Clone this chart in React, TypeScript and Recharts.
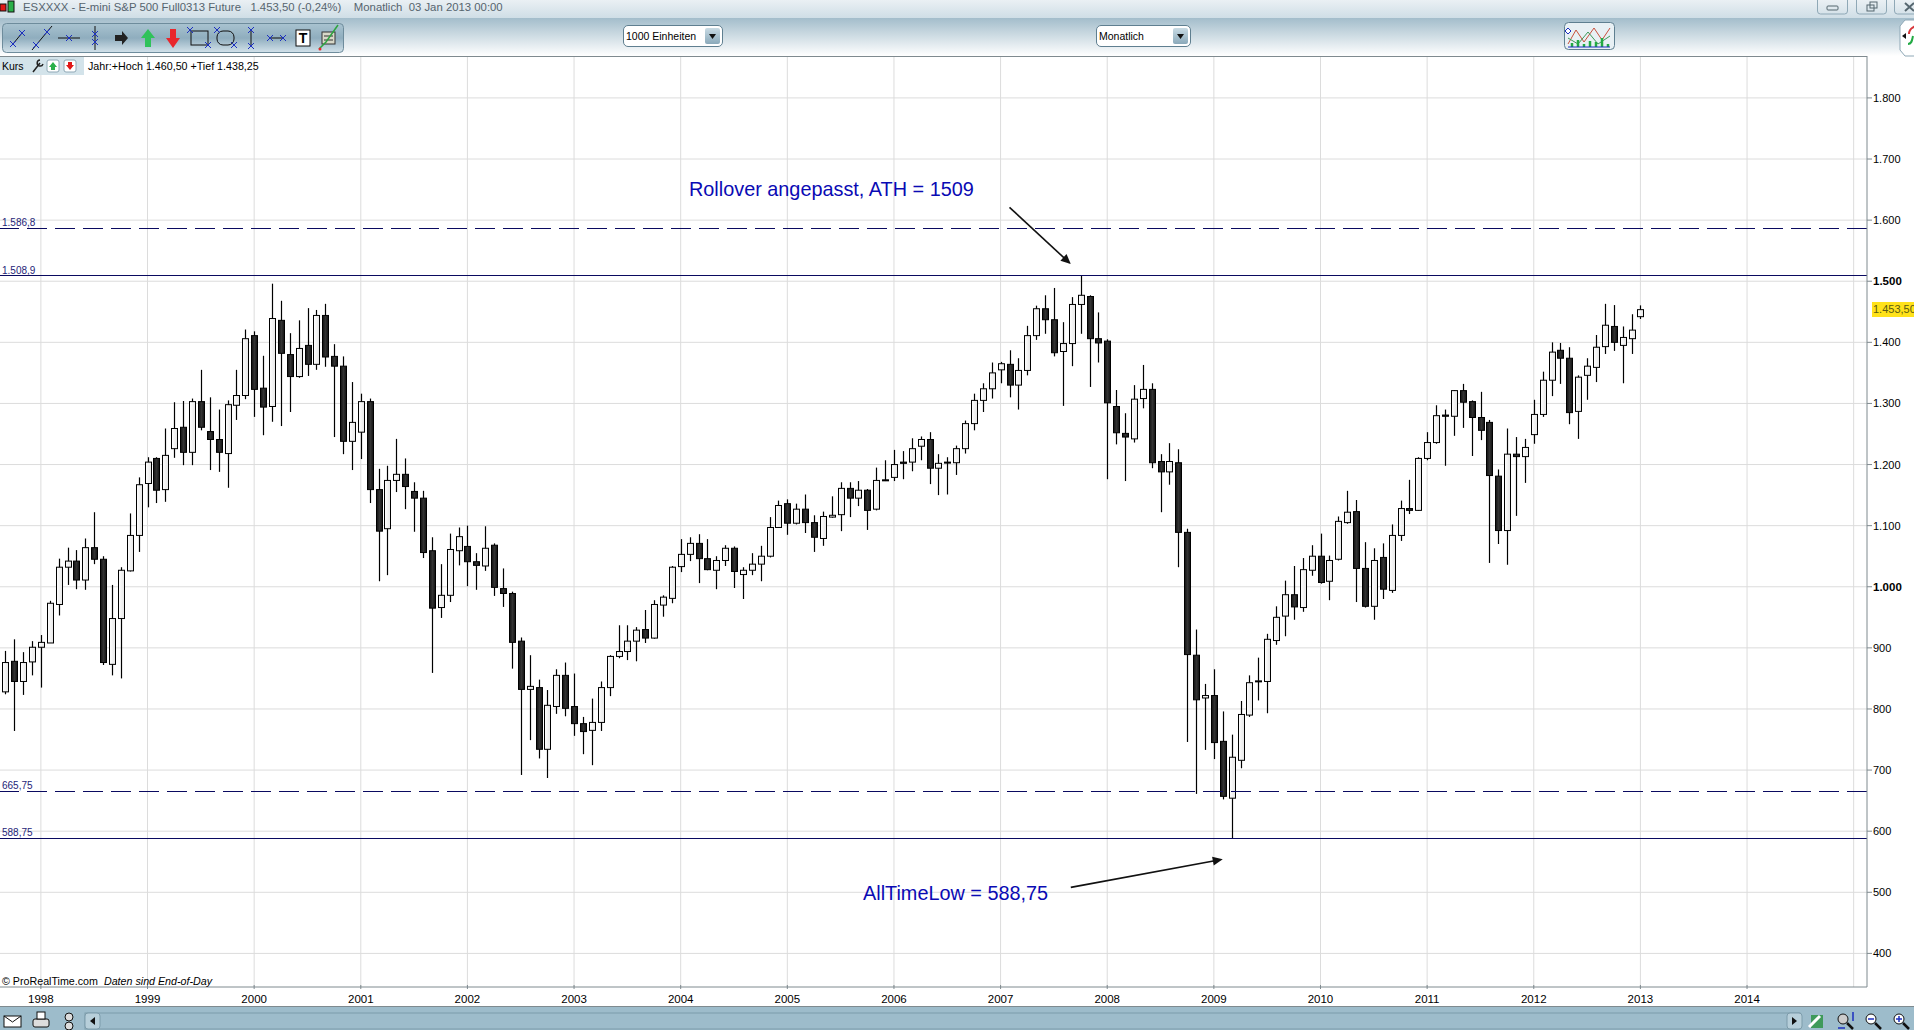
import React from "react";
import {
  ComposedChart,
  Bar,
  XAxis,
  YAxis,
  CartesianGrid,
  ReferenceLine,
} from "recharts";

// monthly candles, Sep 1997 .. Jan 2013
const opens = [
  828, 878, 845, 877, 901, 908, 971, 1032, 1042, 1011,
  1064, 1045, 873, 948, 1026, 1084, 1169, 1210, 1159, 1226,
  1261, 1220, 1303, 1254, 1241, 1218, 1297, 1313, 1411, 1325,
  1295, 1436, 1380, 1344, 1395, 1364, 1444, 1377, 1361, 1238,
  1253, 1303, 1159, 1095, 1174, 1184, 1156, 1145, 1059, 966,
  986, 1059, 1066, 1041, 1034, 1068, 997, 989, 911, 832,
  835, 734, 804, 855, 804, 776, 765, 778, 835, 886,
  894, 911, 930, 916, 970, 981, 1033, 1053, 1071, 1046,
  1027, 1043, 1063, 1020, 1027, 1037, 1050, 1097, 1136, 1104,
  1127, 1105, 1079, 1114, 1118, 1161, 1145, 1158, 1127, 1175,
  1179, 1204, 1204, 1230, 1241, 1194, 1204, 1203, 1226, 1267,
  1305, 1324, 1355, 1364, 1330, 1354, 1411, 1455, 1437, 1385,
  1398, 1462, 1475, 1406, 1402, 1295, 1251, 1242, 1308, 1323,
  1205, 1188, 1203, 1089, 888, 818, 822, 747, 654, 716,
  790, 845, 845, 912, 952, 987, 966, 1027, 1050, 1009,
  1045, 1105, 1123, 1030, 968, 1048, 994, 1084, 1128, 1125,
  1210, 1236, 1281, 1279, 1321, 1303, 1277, 1269, 1181, 1092,
  1217, 1213, 1249, 1282, 1338, 1387, 1374, 1287, 1346, 1359,
  1393, 1426, 1395, 1406, 1442,
];
const closes = [
  876, 845, 876, 901, 909, 973, 1032, 1042, 1011, 1064,
  1045, 876, 948, 1027, 1084, 1167, 1204, 1158, 1215, 1259,
  1220, 1303, 1261, 1241, 1220, 1298, 1313, 1406, 1323, 1294,
  1439, 1382, 1344, 1390, 1364, 1444, 1376, 1361, 1238, 1269,
  1303, 1159, 1091, 1174, 1184, 1164, 1145, 1056, 965, 986,
  1061, 1082, 1041, 1035, 1063, 999, 989, 909, 832, 837,
  734, 806, 855, 801, 776, 763, 778, 835, 886, 894,
  911, 929, 916, 971, 983, 1032, 1053, 1071, 1046, 1028,
  1043, 1063, 1025, 1027, 1037, 1050, 1097, 1133, 1104, 1127,
  1105, 1081, 1115, 1117, 1161, 1145, 1158, 1125, 1174, 1174,
  1200, 1202, 1226, 1241, 1194, 1202, 1203, 1226, 1267, 1305,
  1324, 1350, 1365, 1330, 1354, 1411, 1455, 1437, 1383, 1398,
  1462, 1477, 1406, 1399, 1301, 1252, 1245, 1307, 1323, 1203,
  1188, 1205, 1089, 889, 815, 822, 745, 657, 721, 791,
  843, 846, 914, 950, 987, 967, 1028, 1050, 1007, 1043,
  1107, 1122, 1030, 968, 1043, 996, 1084, 1128, 1125, 1210,
  1236, 1280, 1279, 1321, 1302, 1277, 1256, 1182, 1092, 1217,
  1213, 1228, 1282, 1338, 1384, 1374, 1285, 1343, 1361, 1392,
  1428, 1400, 1408, 1420, 1453.5,
];
const highs = [
  895, 914, 893, 911, 921, 977, 1046, 1064, 1060, 1079,
  1122, 1050, 1003, 1032, 1120, 1179, 1212, 1212, 1259, 1302,
  1304, 1308, 1355, 1310, 1290, 1305, 1355, 1421, 1418, 1378,
  1496, 1468, 1415, 1436, 1456, 1453, 1463, 1397, 1377, 1335,
  1316, 1308, 1193, 1198, 1242, 1210, 1171, 1157, 1081, 1037,
  1087, 1097, 1100, 1055, 1099, 1071, 1030, 992, 917, 888,
  848, 831, 865, 876, 858, 787, 817, 845, 888, 937,
  937, 934, 962, 978, 986, 1034, 1078, 1081, 1086, 1078,
  1050, 1068, 1066, 1032, 1055, 1067, 1114, 1141, 1143, 1136,
  1151, 1117, 1123, 1148, 1171, 1171, 1173, 1160, 1195, 1207,
  1224, 1222, 1243, 1246, 1253, 1217, 1212, 1231, 1272, 1316,
  1333, 1367, 1368, 1387, 1374, 1427, 1460, 1477, 1489, 1433,
  1474, 1508.9, 1477, 1449, 1405, 1322, 1284, 1330, 1363, 1333,
  1217, 1235, 1225, 1095, 930, 841, 865, 796, 758, 813,
  855, 884, 923, 968, 1010, 1034, 1047, 1068, 1087, 1051,
  1115, 1157, 1142, 1073, 1063, 1071, 1102, 1141, 1175, 1212,
  1253, 1297, 1290, 1322, 1332, 1305, 1319, 1273, 1192, 1259,
  1245, 1242, 1306, 1352, 1400, 1399, 1392, 1346, 1374, 1412,
  1463, 1461, 1426, 1446, 1460.5,
];
const lows = [
  824, 764, 823, 855, 835, 908, 953, 1003, 996, 995,
  1037, 872, 855, 850, 1025, 1057, 1130, 1137, 1139, 1211,
  1199, 1199, 1256, 1191, 1188, 1162, 1273, 1307, 1278, 1248,
  1270, 1263, 1286, 1342, 1345, 1355, 1360, 1245, 1217, 1191,
  1209, 1137, 1009, 1019, 1155, 1127, 1090, 1047, 859, 949,
  975, 1035, 1001, 995, 1026, 985, 967, 866, 692, 749,
  719, 687, 792, 788, 756, 726, 708, 764, 821, 883,
  880, 878, 908, 915, 951, 973, 1024, 1042, 1006, 1027,
  996, 1034, 998, 980, 1019, 1009, 1048, 1097, 1085, 1102,
  1088, 1057, 1067, 1113, 1091, 1114, 1132, 1093, 1125, 1173,
  1173, 1176, 1189, 1207, 1168, 1150, 1151, 1183, 1218, 1256,
  1286, 1308, 1333, 1310, 1290, 1346, 1404, 1414, 1377, 1296,
  1361, 1414, 1327, 1367, 1176, 1233, 1173, 1236, 1292, 1194,
  1122, 1167, 1032, 746, 661, 733, 718, 652, 588.75, 703,
  787, 814, 793, 905, 919, 946, 959, 1018, 1005, 978,
  1043, 1103, 975, 966, 946, 980, 990, 1075, 1119, 1124,
  1207, 1234, 1198, 1247, 1260, 1214, 1240, 1039, 1070, 1036,
  1116, 1170, 1234, 1278, 1312, 1332, 1266, 1242, 1306, 1335,
  1381, 1386, 1333, 1381, 1438.25,
];

const yearTicks = [4, 16, 28, 40, 52, 64, 76, 88, 100, 112, 124, 136, 148, 160, 172, 184, 196, 208];
const yearLabels = ["1998", "1999", "2000", "2001", "2002", "2003", "2004", "2005", "2006", "2007", "2008", "2009", "2010", "2011", "2012", "2013", "2014", ""];
const priceTicks = [400, 500, 600, 700, 800, 900, 1000, 1100, 1200, 1300, 1400, 1500, 1600, 1700, 1800];
const boldPrices = [1000, 1500];

const levels = [
  { value: 1586.8, label: "1.586,8", dash: "20 8" },
  { value: 1508.9, label: "1.508,9", dash: undefined },
  { value: 665.75, label: "665,75", dash: "20 8" },
  { value: 588.75, label: "588,75", dash: undefined },
];

const arrows = [
  [{ x: 113, y: 1621 }, { x: 119.9, y: 1528 }],
  [{ x: 119.9, y: 508 }, { x: 137, y: 554 }],
];

const candles = opens.map((open, i) => ({
  idx: i,
  open,
  close: closes[i],
  high: highs[i],
  low: lows[i],
  range: [lows[i], highs[i]],
}));

const FONT = "'Liberation Sans', Arial, sans-serif";
const NAVY = "#0a0a60";

function Candle(props: any) {
  const { x, y, width, height, payload } = props;
  const top = Math.min(y, y + height);
  const h = Math.abs(height);
  const perPoint = h / (payload.high - payload.low);
  const yOf = (v: number) => top + (payload.high - v) * perPoint;
  const cx = Math.round(x + width / 2) + 0.5;
  const up = payload.close >= payload.open;
  const bodyTop = yOf(Math.max(payload.open, payload.close));
  const bodyBottom = yOf(Math.min(payload.open, payload.close));
  return (
    <g>
      <line x1={cx} x2={cx} y1={top} y2={top + h} stroke="#000" strokeWidth={1.2} />
      <rect
        x={cx - 3}
        y={bodyTop}
        width={6}
        height={Math.max(bodyBottom - bodyTop, 1)}
        fill={up ? "url(#candleUp)" : "url(#candleDown)"}
        stroke="#000"
        strokeWidth={1}
      />
    </g>
  );
}

function Arrow(props: any) {
  const { x1, y1, x2, y2 } = props;
  const a = Math.atan2(y2 - y1, x2 - x1);
  const head = 10;
  const p = (d: number, s: number) =>
    `${x2 - Math.cos(a) * d - Math.sin(a) * s},${y2 - Math.sin(a) * d + Math.cos(a) * s}`;
  return (
    <g>
      <line x1={x1} y1={y1} x2={x2 - Math.cos(a) * 4} y2={y2 - Math.sin(a) * 4} stroke="#111" strokeWidth={1.6} />
      <polygon points={`${x2},${y2} ${p(head, 4.5)} ${p(head, -4.5)}`} fill="#111" />
    </g>
  );
}

function YearTick(props: any) {
  const { x, y, index } = props;
  const label = yearLabels[index];
  if (!label) return null;
  return (
    <g>
      <line x1={x} x2={x} y1={y - 8} y2={y - 4} stroke="#7f8a8f" />
      <text x={x} y={y + 10} textAnchor="middle" fontSize={11.5} fontFamily={FONT} fill="#000">
        {label}
      </text>
    </g>
  );
}

function PriceTick(props: any) {
  const { x, y, payload } = props;
  const bold = boldPrices.includes(payload.value);
  const label = payload.value >= 1000
    ? `${Math.floor(payload.value / 1000)}.${String(payload.value % 1000).padStart(3, "0")}`
    : String(payload.value);
  return (
    <text x={x} y={y + 4} fontSize={bold ? 11.5 : 11} fontWeight={bold ? 700 : 400} fontFamily={FONT} fill="#000">
      {label}
    </text>
  );
}

function Abs({ x, y, w, h, style, children }: any) {
  return <div style={{ position: "absolute", left: x, top: y, width: w, height: h, ...style }}>{children}</div>;
}

function Dropdown({ x, w, label }: any) {
  return (
    <Abs x={x} y={25} w={w} h={22} style={{ background: "#fff", border: "1px solid #5f7f90", borderRadius: 5, boxSizing: "border-box", fontSize: 10.5, lineHeight: "21px", paddingLeft: 2, color: "#000" }}>
      {label}
      <Abs x={w - 19} y={2} w={15} h={16} style={{ background: "linear-gradient(#c9dbe4,#8aa9ba)", borderRadius: 2 }}>
        <svg width={15} height={16}><polygon points="4,6 11,6 7.5,11" fill="#111" /></svg>
      </Abs>
    </Abs>
  );
}

function Toolbar() {
  const blue = "#1c2fc0";
  const mark = (x: number, y: number) => (
    <path d={`M${x - 3} ${y - 3}L${x + 3} ${y + 3}M${x + 3} ${y - 3}L${x - 3} ${y + 3}`} stroke={blue} strokeWidth={1} />
  );
  return (
    <svg width={346} height={34} style={{ position: "absolute", left: 0, top: 20 }}>
      <defs>
        <linearGradient id="panel" x1="0" y1="0" x2="0" y2="1">
          <stop offset="0" stopColor="#a9c3d0" />
          <stop offset="0.5" stopColor="#8fadbe" />
          <stop offset="1" stopColor="#d3e2ea" />
        </linearGradient>
      </defs>
      <rect x={2.5} y={3.5} width={341} height={29} rx={4} fill="url(#panel)" stroke="#6e8c9c" />
      <path d="M13 24L22 13" stroke="#111" />{mark(13, 24)}{mark(22, 13)}
      <path d="M32 30L52 6" stroke="#111" />{mark(36, 25)}{mark(47, 12)}
      <path d="M58 18H80" stroke="#111" />{mark(69, 18)}
      <path d="M95 6V30" stroke="#111" />{mark(95, 14)}{mark(95, 22)}
      <polygon points="115,15 122,15 122,11 128,18 122,25 122,21 115,21" fill="#222" />
      <polygon points="148,9 155,18 151,18 151,27 145,27 145,18 141,18" fill="#2fc25a" />
      <polygon points="173,28 180,18 176,18 176,9 170,9 170,18 166,18" fill="#e8262c" />
      <rect x={191} y={11} width={17} height={14} fill="none" stroke="#111" />{mark(190, 10)}{mark(208, 25)}
      <rect x={217} y={11} width={17} height={14} rx={6} fill="none" stroke="#111" />{mark(217, 10)}{mark(234, 25)}
      <path d="M251 9V27" stroke="#111" />{mark(251, 10)}{mark(251, 26)}
      <path d="M270 18H283" stroke="#111" />{mark(270, 18)}{mark(283, 18)}
      <rect x={296} y={10} width={14} height={16} fill="#fff" stroke="#111" />
      <text x={303} y={23} textAnchor="middle" fontSize={14} fontWeight={700} fontFamily={FONT}>T</text>
      <rect x={322} y={12} width={13} height={12} fill="#d8d8c8" stroke="#333" />
      <path d="M324 16H333M324 20H333" stroke="#333" />
      <path d="M319 29L326 22L338 5" fill="none" stroke="#2da43f" strokeWidth={1.5} />
      <circle cx={320} cy={29} r={1.5} fill="#e8262c" />
    </svg>
  );
}

function Footer() {
  return (
    <svg width={1914} height={23} style={{ position: "absolute", left: 0, top: 0 }}>
      <rect x={85} y={6} width={1715} height={16} fill="#9dbccb" stroke="#7d9cab" />
      <rect x={85} y={6} width={15} height={16} rx={3} fill="#b7cfda" stroke="#7d9cab" />
      <polygon points="90,14 95,10 95,18" fill="#111" />
      <rect x={1787} y={6} width={15} height={16} rx={3} fill="#b7cfda" stroke="#7d9cab" />
      <polygon points="1797,14 1792,10 1792,18" fill="#111" />
      <rect x={4} y={9} width={17} height={11} fill="#fff" stroke="#111" />
      <path d="M4 9L12.5 15L21 9" fill="none" stroke="#111" />
      <rect x={33} y={12} width={16} height={8} rx={2} fill="#ddd" stroke="#111" />
      <rect x={37} y={5} width={8} height={7} fill="#fff" stroke="#111" />
      <circle cx={69} cy={10} r={4} fill="#ddd" stroke="#111" />
      <circle cx={69} cy={19} r={4} fill="#ddd" stroke="#111" />
      <rect x={1811} y={8} width={12} height={13} fill="#3f9a5a" />
      <path d="M1809 20L1820 9" stroke="#fff" strokeWidth={3} />
      <circle cx={1843} cy={12} r={5} fill="#ccc" stroke="#111" />
      <path d="M1847 16L1853 22" stroke="#111" strokeWidth={2.5} />
      <path d="M1853 5V14M1838 21H1845" stroke="#1c2fc0" strokeWidth={1.5} />
      <circle cx={1871} cy={12} r={5} fill="#fff" stroke="#111" />
      <path d="M1868 12H1874" stroke="#1c2fc0" strokeWidth={1.5} />
      <path d="M1875 16L1881 22" stroke="#111" strokeWidth={2.5} />
      <circle cx={1899} cy={12} r={5} fill="#fff" stroke="#111" />
      <path d="M1896 12H1902M1899 9V15" stroke="#1c2fc0" strokeWidth={1.5} />
      <path d="M1903 16L1909 22" stroke="#111" strokeWidth={2.5} />
    </svg>
  );
}

export default function App() {
  return (
    <div style={{ position: "absolute", left: 0, top: 0, width: 1914, height: 1030, overflow: "hidden", background: "#fff", fontFamily: FONT }}>
      {/* window chrome */}
      <Abs x={0} y={0} w={1914} h={18} style={{ background: "linear-gradient(#eaf0f4,#cfdee6)" }} />
      <Abs x={0} y={18} w={1914} h={38} style={{ background: "linear-gradient(#a3bdcb,#ffffff)" }} />
      <Abs x={23} y={0} w={600} h={14} style={{ fontSize: 11.35, lineHeight: "14px", color: "#56646e", whiteSpace: "pre" }}>
        {"ESXXXX - E-mini S&P 500 Full0313 Future   1.453,50 (-0,24%)    Monatlich  03 Jan 2013 00:00"}
      </Abs>
      <svg width={18} height={14} style={{ position: "absolute", left: 0, top: 0 }}>
        <rect x={0} y={4} width={6} height={7} fill="#e01818" stroke="#111" />
        <rect x={8} y={1} width={6} height={11} fill="#2bb04a" stroke="#111" />
      </svg>
      <Toolbar />
      <Dropdown x={623} w={100} label="1000 Einheiten" />
      <Dropdown x={1096} w={95} label="Monatlich" />
      <svg width={52} height={29} style={{ position: "absolute", left: 1564, top: 22 }}>
        <rect x={0.5} y={0.5} width={50} height={27} rx={4} fill="#e8f0f4" stroke="#5f7f90" />
        <path d="M4 22L12 8L20 20L30 6L38 18L46 6" fill="none" stroke="#c8503c" />
        <path d="M4 16L14 22L24 10L34 22L46 14" fill="none" stroke="#3f9a5a" />
        <path d="M8 25V21M14 25V18M20 25V22M26 25V19M32 25V20M38 25V16M44 25V22" stroke="#22aa44" strokeWidth={2.5} />
        <path d="M4 25H46" stroke="#1c2fc0" />
        <polygon points="4,6 7,9 4,12 1,9" fill="#fff" stroke="#1c2fc0" />
      </svg>
      <svg width={26} height={40} style={{ position: "absolute", left: 1899, top: 18 }}>
        <path d="M6 2H26V38H6L1 32V8Z" fill="#fff" stroke="#8fa8b6" />
        <polygon points="3,18 7,15 7,21" fill="#111" />
        <path d="M10 16C10 10 14 10 16 8" fill="none" stroke="#d8383c" strokeWidth={2} />
        <path d="M9 26C13 26 13 22 14 18" fill="none" stroke="#22aa44" strokeWidth={2} />
      </svg>
      <svg width={100} height={15} style={{ position: "absolute", left: 1817, top: 0 }}>
        <rect x={0.5} y={-3} width={30} height={17} rx={3} fill="none" stroke="#8fa8b6" />
        <rect x={39.5} y={-3} width={30} height={17} rx={3} fill="none" stroke="#8fa8b6" />
        <rect x={77.5} y={-3} width={30} height={17} rx={3} fill="none" stroke="#8fa8b6" />
        <rect x={10} y={6} width={11} height={4} rx={1} fill="none" stroke="#55666f" />
        <rect x={50} y={5} width={7} height={6} fill="none" stroke="#55666f" />
        <rect x={53} y={2} width={7} height={6} fill="none" stroke="#55666f" />
        <path d="M88 3L97 11M97 3L88 11" stroke="#55666f" strokeWidth={2} />
      </svg>

      {/* chart */}
      <div style={{ position: "absolute", left: 0, top: 0 }}>
        <ComposedChart
          width={1914}
          height={1030}
          data={candles}
          margin={{ top: 56, right: 0, bottom: 0, left: 0 }}
        >
          <defs>
            <linearGradient id="candleUp" x1="0" y1="0" x2="1" y2="0">
              <stop offset="0" stopColor="#ffffff" />
              <stop offset="1" stopColor="#e6e6e6" />
            </linearGradient>
            <linearGradient id="candleDown" x1="0" y1="0" x2="1" y2="0">
              <stop offset="0" stopColor="#111111" />
              <stop offset="0.5" stopColor="#333333" />
              <stop offset="1" stopColor="#111111" />
            </linearGradient>
          </defs>
          <CartesianGrid stroke="#dcdcdc" strokeWidth={1} syncWithTicks />
          <XAxis
            dataKey="idx"
            type="number"
            domain={[-0.6, 209.5]}
            allowDataOverflow
            ticks={yearTicks}
            interval={0}
            height={43}
            tickLine={false}
            axisLine={{ stroke: "#7f8a8f" }}
            tick={<YearTick />}
            tickMargin={0}
          />
          <YAxis
            orientation="right"
            type="number"
            domain={[345, 1868.6]}
            allowDataOverflow
            ticks={priceTicks}
            interval={0}
            width={47}
            axisLine={{ stroke: "#7f8a8f" }}
            tickLine={{ stroke: "#7f8a8f" }}
            tickSize={5}
            tickMargin={1}
            tick={<PriceTick />}
          />
          {levels.map((l) => (
            <ReferenceLine
              key={l.label}
              y={l.value}
              stroke={NAVY}
              strokeWidth={1}
              strokeDasharray={l.dash}
              shapeRendering="crispEdges"
              label={{ value: l.label, position: "insideBottomLeft", offset: 2, fontSize: 10, fill: "#1e1e78", fontFamily: FONT }}
            />
          ))}
          <Bar dataKey="range" barSize={7} shape={<Candle />} isAnimationActive={false} />
          {arrows.map((segment, i) => (
            <ReferenceLine key={i} segment={segment} ifOverflow="visible" shape={(p: any) => <Arrow {...p} />} />
          ))}
        </ComposedChart>
      </div>

      {/* overlays */}
      <Abs x={0} y={56} w={1867} h={1} style={{ background: "#7f8a8f" }} />
      <Abs x={0} y={57} w={84} h={18} style={{ background: "#d3e3ea", fontSize: 10.5, lineHeight: "18px", paddingLeft: 2, boxSizing: "border-box" }}>
        Kurs
      </Abs>
      <svg width={50} height={18} style={{ position: "absolute", left: 30, top: 57 }}>
        <path d="M3 15L10 6M10 3A3 3 0 1 0 13 7" fill="none" stroke="#222" strokeWidth={1.5} />
        <rect x={17} y={3} width={12} height={12} rx={2} fill="#fff" stroke="#8fa8b6" />
        <polygon points="23,5 27,10 25,10 25,13 21,13 21,10 19,10" fill="#2bb04a" />
        <rect x={34} y={3} width={12} height={12} rx={2} fill="#fff" stroke="#8fa8b6" />
        <polygon points="40,13 44,8 42,8 42,5 38,5 38,8 36,8" fill="#e01818" />
      </svg>
      <Abs x={88} y={57} w={300} h={18} style={{ fontSize: 10.7, lineHeight: "18px", whiteSpace: "pre", color: "#000" }}>
        Jahr:+Hoch 1.460,50 +Tief 1.438,25
      </Abs>
      <Abs x={689} y={177} w={320} h={24} style={{ fontSize: 19.85, lineHeight: "24px", color: "#0a0ab4", whiteSpace: "pre" }}>
        Rollover angepasst, ATH = 1509
      </Abs>
      <Abs x={863} y={881} w={220} h={24} style={{ fontSize: 19.85, lineHeight: "24px", color: "#0a0ab4", whiteSpace: "pre" }}>
        AllTimeLow = 588,75
      </Abs>
      <Abs x={1872} y={302} w={42} h={15} style={{ background: "#ffe21a", fontSize: 11, lineHeight: "15px", color: "#5a5a10", whiteSpace: "pre", paddingLeft: 1, overflow: "hidden" }}>
        1.453,50
      </Abs>
      <Abs x={2} y={974} w={400} h={14} style={{ fontSize: 10.7, lineHeight: "14px", whiteSpace: "pre", color: "#000" }}>
        © ProRealTime.com  <i>Daten sind End-of-Day</i>
      </Abs>
      <Abs x={0} y={1006} w={1914} h={24} style={{ background: "#9dbccb", borderTop: "1px solid #7f8a8f", boxSizing: "border-box" }}>
        <Footer />
      </Abs>
    </div>
  );
}
